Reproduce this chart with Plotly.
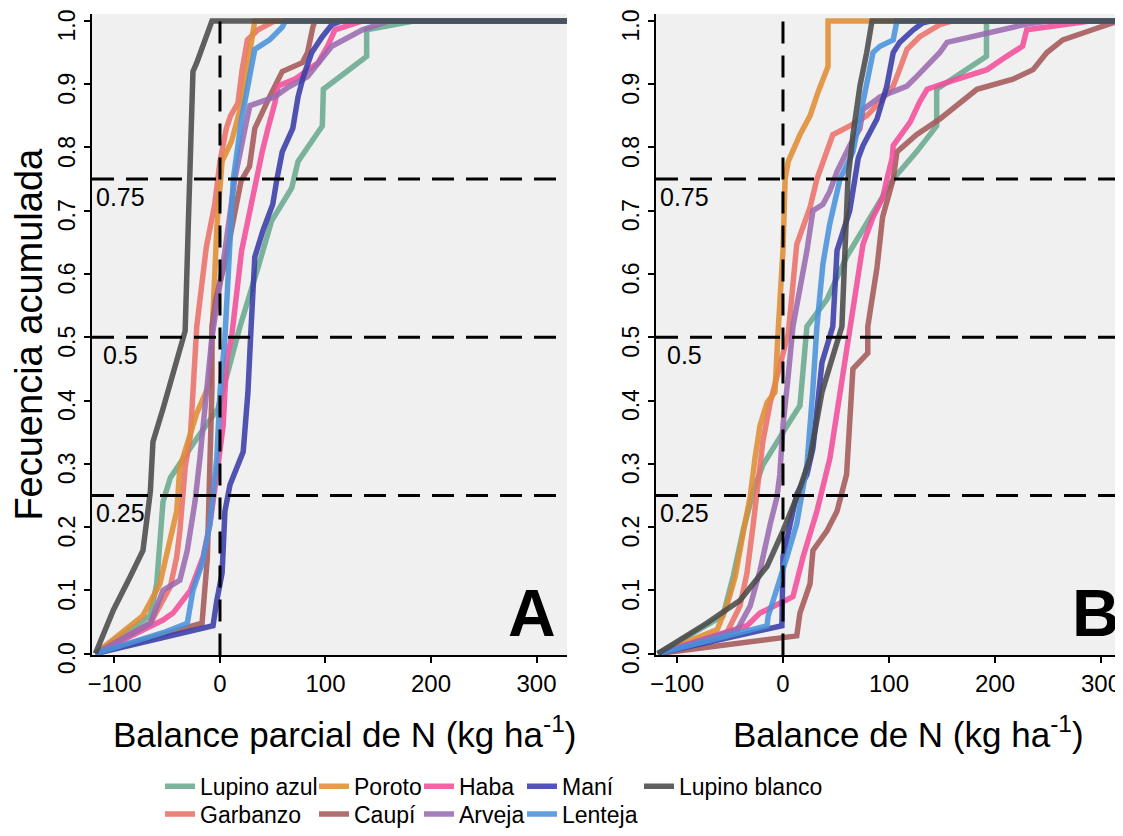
import plotly.graph_objects as go

# especies y colores
species = ["Lupino azul", "Garbanzo", "Poroto", "Caupí", "Haba",
           "Arveja", "Maní", "Lenteja", "Lupino blanco"]
colors = ["#6aa98f", "#ea7169", "#e08e38", "#a65a5a", "#f24e9b",
          "#9a6bb0", "#3a3ea8", "#4b93db", "#4a4a4a"]

# ---- Panel A: balance parcial de N (x) vs frecuencia acumulada (y)
a_lupino_azul_x = [-118, -100, -66, -60, -57, -54, -47, -35, -22, -2, 19, 36, 49, 68, 74, 97, 98, 139, 139, 185, 340]
a_lupino_azul_y = [0, 0.02, 0.06, 0.11, 0.178, 0.24, 0.278, 0.309, 0.34, 0.387, 0.517, 0.61, 0.684, 0.736, 0.778, 0.834, 0.892, 0.944, 0.986, 1.0, 1.0]
a_garbanzo_x = [-118, -66, -47, -41, -38, -35, -33, -28, -26, -22, -13, -5, 0, 6, 10, 17, 21, 26, 36, 52, 340]
a_garbanzo_y = [0, 0.048, 0.106, 0.153, 0.194, 0.256, 0.294, 0.345, 0.413, 0.517, 0.642, 0.71, 0.778, 0.83, 0.85, 0.87, 0.923, 0.97, 0.986, 1.0, 1.0]
a_poroto_x = [-118, -73, -57, -47, -41, -38, -31, -22, -9.5, -7.6, -3, 2, 11, 20, 31, 33, 340]
a_poroto_y = [0, 0.06, 0.11, 0.184, 0.225, 0.294, 0.335, 0.38, 0.428, 0.5, 0.673, 0.778, 0.81, 0.866, 0.98, 1.0, 1.0]
a_caupi_x = [-118, -17, -12, -9, -7.6, -7.6, -4, 5, 15, 20, 28, 33, 47, 59, 78, 83, 88, 90, 340]
a_caupi_y = [0, 0.048, 0.15, 0.3, 0.42, 0.517, 0.56, 0.62, 0.7, 0.747, 0.77, 0.83, 0.88, 0.92, 0.934, 0.95, 0.99, 1.0, 1.0]
a_haba_x = [-118, -54, -44.5, -28, -16, -9.5, -3, 3, 6.3, 11, 20.5, 25.6, 33, 40, 45.5, 52, 55, 71, 93, 102, 109, 135, 340]
a_haba_y = [0, 0.053, 0.064, 0.1, 0.153, 0.205, 0.283, 0.36, 0.466, 0.5, 0.637, 0.68, 0.74, 0.793, 0.83, 0.87, 0.897, 0.908, 0.934, 0.96, 0.986, 1.0, 1.0]
a_arveja_x = [-118, -66, -54, -38, -31, -23.7, -19, -12.6, -7.6, 4.7, 14, 25.6, 28.4, 52, 64.5, 83, 106, 135, 160, 340]
a_arveja_y = [0, 0.048, 0.1, 0.116, 0.163, 0.24, 0.309, 0.413, 0.5, 0.637, 0.75, 0.845, 0.866, 0.88, 0.895, 0.912, 0.96, 0.986, 1.0, 1.0]
a_mani_x = [-118, -6.6, -3, 2, 4.7, 9.5, 22, 26.5, 29, 33, 41, 50, 54, 59, 69, 74, 79, 87, 97, 106, 115, 340]
a_mani_y = [0, 0.044, 0.084, 0.127, 0.225, 0.267, 0.319, 0.413, 0.5, 0.627, 0.67, 0.71, 0.75, 0.793, 0.83, 0.88, 0.912, 0.95, 0.975, 0.994, 1.0, 1.0]
a_lenteja_x = [-118, -54, -31, -25.6, -17, -9.5, -3, 0, 4.7, 12.6, 20.5, 26.5, 33, 47, 59, 62, 340]
a_lenteja_y = [0, 0.033, 0.048, 0.1, 0.142, 0.205, 0.309, 0.413, 0.5, 0.75, 0.845, 0.897, 0.955, 0.97, 0.99, 1.0, 1.0]
a_lupino_blanco_x = [-118, -101, -85, -73, -66, -63.5, -54, -44.5, -35, -33, -30, -28.4, -25.6, -22, -7.6, 340]
a_lupino_blanco_y = [0, 0.069, 0.122, 0.163, 0.256, 0.335, 0.387, 0.44, 0.5, 0.51, 0.68, 0.75, 0.92, 0.934, 1.0, 1.0]

# ---- Panel B: balance de N
b_lupino_azul_x = [-118, -56.6, -47, -37.7, -28, -19, 3.8, 16, 22.6, 41.5, 60, 82, 104, 126, 145, 145, 192, 192, 340]
b_lupino_azul_y = [0, 0.06, 0.122, 0.194, 0.256, 0.298, 0.36, 0.392, 0.517, 0.56, 0.627, 0.69, 0.75, 0.793, 0.834, 0.892, 0.944, 1.0, 1.0]
b_garbanzo_x = [-118, -53, -40.6, -34, -28, -24.5, -19, -12, -5.7, 5, 13, 25.5, 32, 39.6, 47, 63, 79, 91.5, 104, 110, 117, 129, 148, 160, 340]
b_garbanzo_y = [0, 0.033, 0.075, 0.127, 0.205, 0.256, 0.335, 0.397, 0.44, 0.506, 0.647, 0.705, 0.75, 0.788, 0.82, 0.834, 0.85, 0.872, 0.897, 0.923, 0.955, 0.975, 0.994, 1.0, 1.0]
b_poroto_x = [-118, -62, -53, -45, -36, -31, -26.4, -21.7, -15, -7.6, -4.7, 0, 2, 5, 16, 25.5, 33, 39.6, 42.5, 42.5, 340]
b_poroto_y = [0, 0.038, 0.075, 0.122, 0.205, 0.247, 0.309, 0.36, 0.397, 0.413, 0.506, 0.637, 0.75, 0.778, 0.82, 0.85, 0.887, 0.912, 0.928, 1.0, 1.0]
b_caupi_x = [-118, 0, 13, 16, 25.5, 28.3, 41.5, 51, 60, 66, 80, 80, 88.7, 94, 104, 107.5, 126, 148, 167, 183, 217, 236, 249, 264, 292, 311, 325, 340]
b_caupi_y = [0, 0.025, 0.028, 0.064, 0.11, 0.163, 0.194, 0.225, 0.283, 0.45, 0.475, 0.517, 0.61, 0.69, 0.75, 0.793, 0.82, 0.845, 0.872, 0.892, 0.908, 0.923, 0.95, 0.97, 0.986, 0.997, 1.0, 1.0]
b_haba_x = [-118, -34, -21.7, -3, 9.4, 19, 32, 44.3, 53.8, 63, 70, 75.5, 85, 94, 98, 103, 104, 120, 129, 136, 155, 174, 192.5, 211, 226, 230, 261, 290, 340]
b_haba_y = [0, 0.044, 0.064, 0.08, 0.09, 0.153, 0.225, 0.309, 0.413, 0.517, 0.584, 0.647, 0.69, 0.72, 0.75, 0.783, 0.803, 0.84, 0.872, 0.892, 0.903, 0.912, 0.923, 0.944, 0.96, 0.986, 0.994, 1.0, 1.0]
b_arveja_x = [-118, -43, -31, -21.7, -12, -5.7, -3, 0, 5, 9.4, 22.6, 28.3, 37.7, 44, 51, 63, 72.6, 75.5, 91.5, 117, 126, 138.7, 148, 154.7, 179, 211, 230, 250, 340]
b_arveja_y = [0, 0.038, 0.075, 0.131, 0.205, 0.247, 0.283, 0.36, 0.44, 0.517, 0.637, 0.7, 0.71, 0.73, 0.762, 0.803, 0.83, 0.86, 0.88, 0.897, 0.912, 0.934, 0.95, 0.966, 0.975, 0.986, 0.995, 1.0, 1.0]
b_mani_x = [-118, -1, 0, 8.5, 13, 22.6, 28.3, 36.8, 47, 51, 63, 71, 75.5, 88.7, 98, 104, 110, 123, 132, 140, 340]
b_mani_y = [0, 0.044, 0.153, 0.225, 0.252, 0.283, 0.325, 0.46, 0.517, 0.637, 0.7, 0.783, 0.803, 0.845, 0.897, 0.95, 0.966, 0.986, 0.997, 1.0, 1.0]
b_lenteja_x = [-118, -15, -14, -5.7, 3.8, 13, 22.6, 28, 32, 37.7, 44, 53.8, 66, 75.5, 85, 91.5, 104, 107.5, 340]
b_lenteja_y = [0, 0.044, 0.059, 0.1, 0.153, 0.205, 0.298, 0.413, 0.517, 0.616, 0.678, 0.75, 0.793, 0.872, 0.95, 0.96, 0.97, 1.0, 1.0]
b_lupino_blanco_x = [-118, -72, -40.6, -15, 0, 13, 25.5, 36.8, 44.3, 55.6, 58.5, 61.3, 66, 72.6, 79, 84, 340]
b_lupino_blanco_y = [0, 0.048, 0.084, 0.138, 0.194, 0.247, 0.309, 0.413, 0.455, 0.517, 0.637, 0.75, 0.82, 0.897, 0.95, 1.0, 1.0]

panel_a = [(a_lupino_azul_x, a_lupino_azul_y), (a_garbanzo_x, a_garbanzo_y),
           (a_poroto_x, a_poroto_y), (a_caupi_x, a_caupi_y), (a_haba_x, a_haba_y),
           (a_arveja_x, a_arveja_y), (a_mani_x, a_mani_y), (a_lenteja_x, a_lenteja_y),
           (a_lupino_blanco_x, a_lupino_blanco_y)]
panel_b = [(b_lupino_azul_x, b_lupino_azul_y), (b_garbanzo_x, b_garbanzo_y),
           (b_poroto_x, b_poroto_y), (b_caupi_x, b_caupi_y), (b_haba_x, b_haba_y),
           (b_arveja_x, b_arveja_y), (b_mani_x, b_mani_y), (b_lenteja_x, b_lenteja_y),
           (b_lupino_blanco_x, b_lupino_blanco_y)]

quartiles = [0.25, 0.5, 0.75]
quartile_labels = ["0.25", "0.5", "0.75"]

# la pagina tiene 8px de margen en el body, el grafico se corre eso
OFF = 8
W, H = 1123 - OFF, 836 - OFF
FONT = "Liberation Sans, Arial, sans-serif"


def px_x(p):
    return (p - OFF) / W


def px_y(p):
    return 1 - (p - OFF) / H


# posicion de cada item de la leyenda (px de pagina): inicio del texto, centro vertical
legend_pos = [(201, 793), (201, 821), (355, 793), (355, 821), (460, 793),
              (460, 821), (563, 793), (563, 821), (680, 793)]

fig = go.Figure()

for i, name in enumerate(species):
    leg = "legend" if i == 0 else f"legend{i + 1}"
    xa, ya = panel_a[i]
    xb, yb = panel_b[i]
    fig.add_trace(go.Scatter(
        x=xa, y=ya, mode="lines", name=name, legend=leg, legendgroup=name,
        line=dict(color=colors[i], width=5.5), opacity=0.88,
        xaxis="x", yaxis="y"))
    fig.add_trace(go.Scatter(
        x=xb, y=yb, mode="lines", name=name, legendgroup=name, showlegend=False,
        line=dict(color=colors[i], width=5.5), opacity=0.88,
        xaxis="x2", yaxis="y2"))

dash = dict(color="black", width=3, dash="22px,12px")
shapes = []
annotations = []
for xr, yr, lab_x in [("x", "y", -94), ("x2", "y2", -92.5)]:
    for q, lab in zip(quartiles, quartile_labels):
        shapes.append(dict(type="line", xref=f"{xr} domain", yref=yr,
                           x0=0, x1=1, y0=q, y1=q, line=dash))
        annotations.append(dict(x=lab_x, y=q, xref=xr, yref=yr, text=lab,
                                showarrow=False, xanchor="center", yanchor="top", yshift=-2,
                                font=dict(size=25, color="black")))
    shapes.append(dict(type="line", xref=xr, yref=f"{yr} domain",
                       x0=0, x1=0, y0=0, y1=1, line=dash))

# letras de panel
for lab, cx in [("A", 532), ("B", 1096)]:
    annotations.append(dict(x=px_x(cx), y=px_y(657), xref="paper", yref="paper",
                            text=f"<b>{lab}</b>", showarrow=False,
                            xanchor="center", yanchor="bottom",
                            font=dict(size=66, color="black")))

# titulos de eje x
for txt, cx in [("Balance parcial de N (kg ha<sup>-1</sup>)", 344),
                ("Balance de N (kg ha<sup>-1</sup>)", 908)]:
    annotations.append(dict(x=px_x(cx), y=px_y(738), xref="paper", yref="paper",
                            text=txt, showarrow=False, xanchor="center", yanchor="middle",
                            font=dict(size=35, color="black")))

axis_common = dict(showgrid=False, zeroline=False, showline=True, linecolor="black",
                   linewidth=2, ticks="outside", ticklen=6, tickwidth=2, tickcolor="black",
                   automargin=False, ticklabeloverflow="allow",
                   tickfont=dict(size=24, color="black"))
y_ticks = dict(dtick=0.1, tickformat=".1f", tickangle=-90, ticklabelshift=8,
               tickfont=dict(size=23, color="black"))

y_dom = [px_y(661), px_y(14)]
fig.update_layout(
    width=W, height=H,
    margin=dict(l=0, r=0, t=0, b=0),
    paper_bgcolor="white", plot_bgcolor="#f0f0f0",
    font=dict(family=FONT, color="black"),
    shapes=shapes, annotations=annotations,
    xaxis=dict(axis_common, domain=[px_x(92), px_x(567)], range=[-121.3, 328.9],
               tickvals=[-100, 0, 100, 200, 300], anchor="y"),
    yaxis=dict(axis_common, **y_ticks, domain=y_dom, range=[-0.003, 1.011], anchor="x",
               title=dict(text="Fecuencia acumulada", font=dict(size=38), standoff=8)),
    xaxis2=dict(axis_common, domain=[px_x(656), 1.0], range=[-119.8, 320.8],
                tickvals=[-100, 0, 100, 200, 300], anchor="y2"),
    yaxis2=dict(axis_common, **y_ticks, domain=y_dom, range=[-0.003, 1.011], anchor="x2"),
)

for i, (tx, cy) in enumerate(legend_pos):
    key = "legend" if i == 0 else f"legend{i + 1}"
    fig.update_layout({key: dict(x=px_x(tx - 41), y=px_y(cy), xanchor="left",
                                 yanchor="middle", bgcolor="rgba(0,0,0,0)",
                                 font=dict(size=23, color="black"),
                                 itemclick=False, itemdoubleclick=False)})

fig.write_html("out.html")
